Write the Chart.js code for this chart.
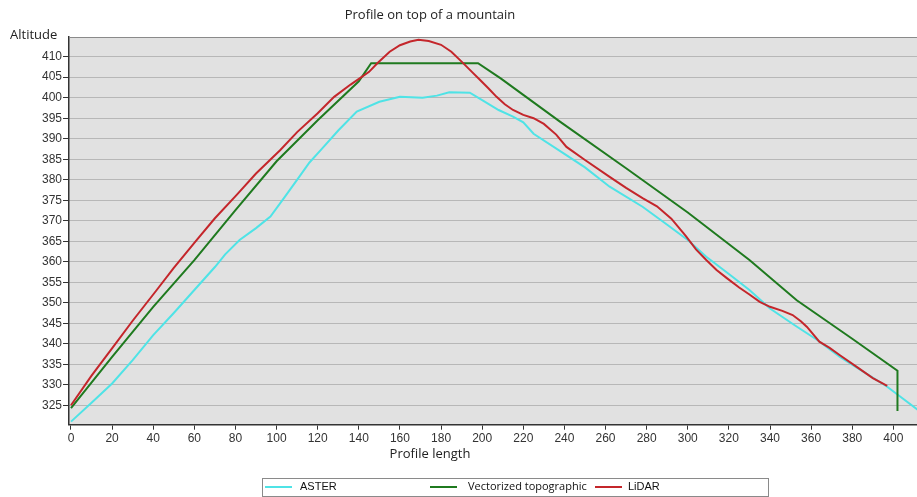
<!DOCTYPE html>
<html>
<head>
<meta charset="utf-8">
<script src="https://cdn.jsdelivr.net/npm/chart.js@4.4.1/dist/chart.umd.min.js"></script>
<style>
  html, body { margin: 0; padding: 0; background: #fff; }
  #wrap { width: 917px; height: 497px; position: relative; }
</style>
</head>
<body>
<div id="wrap"><canvas id="profile"></canvas></div>
<script>
// ASTER
const asterX = [0, 10, 20, 30, 40, 50, 60, 70, 75, 82, 90, 97, 104, 111, 116, 122, 130, 139, 150, 160, 171, 178, 184, 194, 200, 208, 215, 220, 225, 240, 250, 262, 278, 290, 300, 309, 320, 330, 340, 352, 363, 374, 384, 397, 412];
const asterY = [321, 325.6, 330.3, 336, 342.1, 347.5, 353.1, 358.7, 361.8, 365.3, 368.2, 371, 375.8, 380.7, 384.2, 387.5, 392, 396.6, 399, 400.2, 400, 400.5, 401.3, 401.2, 399.4, 397, 395.4, 394, 391.2, 386.3, 383, 378.3, 373.4, 369, 365.3, 361.2, 357, 353.1, 348.6, 344.5, 340.9, 336.8, 333.6, 329.5, 323.8];

// Vectorized topographic
const vecX = [0, 20, 40, 60, 80, 100, 120, 140, 146, 198, 209, 238, 270, 300, 330, 353, 380, 402, 402];
const vecY = [324.3, 336.8, 349, 360.4, 372.6, 384.5, 394.5, 404, 408.4, 408.4, 404.7, 394.1, 382.8, 372, 360.4, 350.6, 341.2, 333.4, 323.6];

// LiDAR
const lidarX = [0, 10, 20.6, 30, 41.7, 50, 61, 70, 80.6, 90, 101.7, 110, 120, 128, 136, 145, 149, 155, 160, 165, 169, 174, 180, 185, 190, 195, 199, 203, 207, 211, 215, 220, 225, 230, 236, 241, 250, 262, 270, 278, 285, 292, 299, 304, 309, 314, 319, 325, 330, 335, 340, 346, 351, 355, 358, 364, 369, 374, 382, 390, 397];
const lidarY = [325, 332.2, 339.3, 345.6, 353.1, 358.5, 365.2, 370.6, 376.3, 381.5, 387.2, 391.6, 396.2, 400.2, 403.2, 406.3, 408.4, 411.2, 412.8, 413.7, 414.1, 413.8, 412.9, 411.2, 408.8, 406.3, 404.3, 402.3, 400.2, 398.4, 397, 395.8, 395, 393.6, 391, 388, 384.8, 380.7, 378, 375.5, 373.5, 370.5, 366.3, 363, 360.4, 358, 356, 353.7, 352, 350.2, 349, 348, 347, 345.5, 344.1, 340.5, 339, 337.2, 334.4, 331.6, 329.7];

const seriesNames = ['ASTER', 'Vectorized topographic', 'LiDAR'];
const seriesColors = ['#4fe3e6', '#1f7a1f', '#c4262b'];

const toPoints = (xs, ys) => xs.map((x, i) => ({ x: x, y: ys[i] }));

const frame = {
    id: 'frame',
    beforeDraw(chart) {
        const { ctx, chartArea: a } = chart;
        ctx.save();
        ctx.fillStyle = '#fff';
        ctx.fillRect(0, 0, chart.width, chart.height);
        ctx.fillStyle = '#e1e1e1';
        ctx.fillRect(a.left, a.top, a.right - a.left, a.bottom - a.top);
        ctx.restore();
    },
    afterDraw(chart) {
        const { ctx, chartArea: a } = chart;
        ctx.save();
        // top border of plot
        ctx.strokeStyle = '#8a8a8a';
        ctx.lineWidth = 1;
        ctx.beginPath();
        ctx.moveTo(a.left, a.top + 0.5);
        ctx.lineTo(a.right, a.top + 0.5);
        ctx.stroke();

        ctx.fillStyle = '#222';
        ctx.textBaseline = 'middle';
        ctx.font = '13px "Open Sans", sans-serif';
        ctx.textAlign = 'center';
        ctx.fillText('Profile on top of a mountain', 430, 15);
        ctx.fillText('Profile length', 430, 454);
        ctx.textAlign = 'left';
        ctx.fillText('Altitude', 10, 35);

        // legend box
        ctx.strokeStyle = '#8a8a8a';
        ctx.strokeRect(262.5, 478.5, 506, 18);
        const itemX = [265, 430, 595];
        const textGap = [35, 38, 33];
        chart.data.datasets.forEach((ds, i) => {
            ctx.strokeStyle = ds.borderColor;
            ctx.lineWidth = 2;
            ctx.beginPath();
            ctx.moveTo(itemX[i], 487);
            ctx.lineTo(itemX[i] + 27, 487);
            ctx.stroke();
            ctx.fillStyle = '#111';
            ctx.font = i === 1 ? '11px "Open Sans", sans-serif' : '11px "Liberation Sans", Arial, sans-serif';
            ctx.fillText(ds.label, itemX[i] + textGap[i], 487);
        });
        ctx.restore();
    }
};

new Chart(document.getElementById('profile'), {
    type: 'line',
    data: {
        datasets: [
            { label: seriesNames[0], data: toPoints(asterX, asterY), borderColor: seriesColors[0], order: 2 },
            { label: seriesNames[1], data: toPoints(vecX, vecY), borderColor: seriesColors[1], order: 1 },
            { label: seriesNames[2], data: toPoints(lidarX, lidarY), borderColor: seriesColors[2], order: 0 }
        ]
    },
    options: {
        responsive: true,
        maintainAspectRatio: false,
        animation: false,
        layout: { padding: { top: 37, left: 0, right: 0, bottom: 0 } },
        elements: {
            point: { radius: 0 },
            line: { borderWidth: 2, tension: 0 }
        },
        plugins: { legend: { display: false }, tooltip: { enabled: false } },
        scales: {
            x: {
                type: 'linear',
                min: -0.97,
                max: 411.5,
                afterFit: s => { s.height = 72.3; },
                ticks: { stepSize: 20, includeBounds: false, maxRotation: 0, autoSkip: false, padding: 2,
                         color: '#333', font: { family: '"Liberation Sans", Arial, sans-serif', size: 12 } },
                grid: { drawOnChartArea: false, tickColor: '#333', tickLength: 5 },
                border: { color: '#333', width: 1.5 }
            },
            y: {
                min: 320.25,
                max: 414.8,
                afterFit: s => { s.width = 69; },
                ticks: { stepSize: 5, includeBounds: false, padding: 1,
                         color: '#333', font: { family: '"Liberation Sans", Arial, sans-serif', size: 12 } },
                grid: { color: '#8c8c8c', tickColor: '#333', tickLength: 6 },
                border: { color: '#333', width: 1.5, dash: [1, 1] }
            }
        }
    },
    plugins: [frame]
});
</script>
</body>
</html>
